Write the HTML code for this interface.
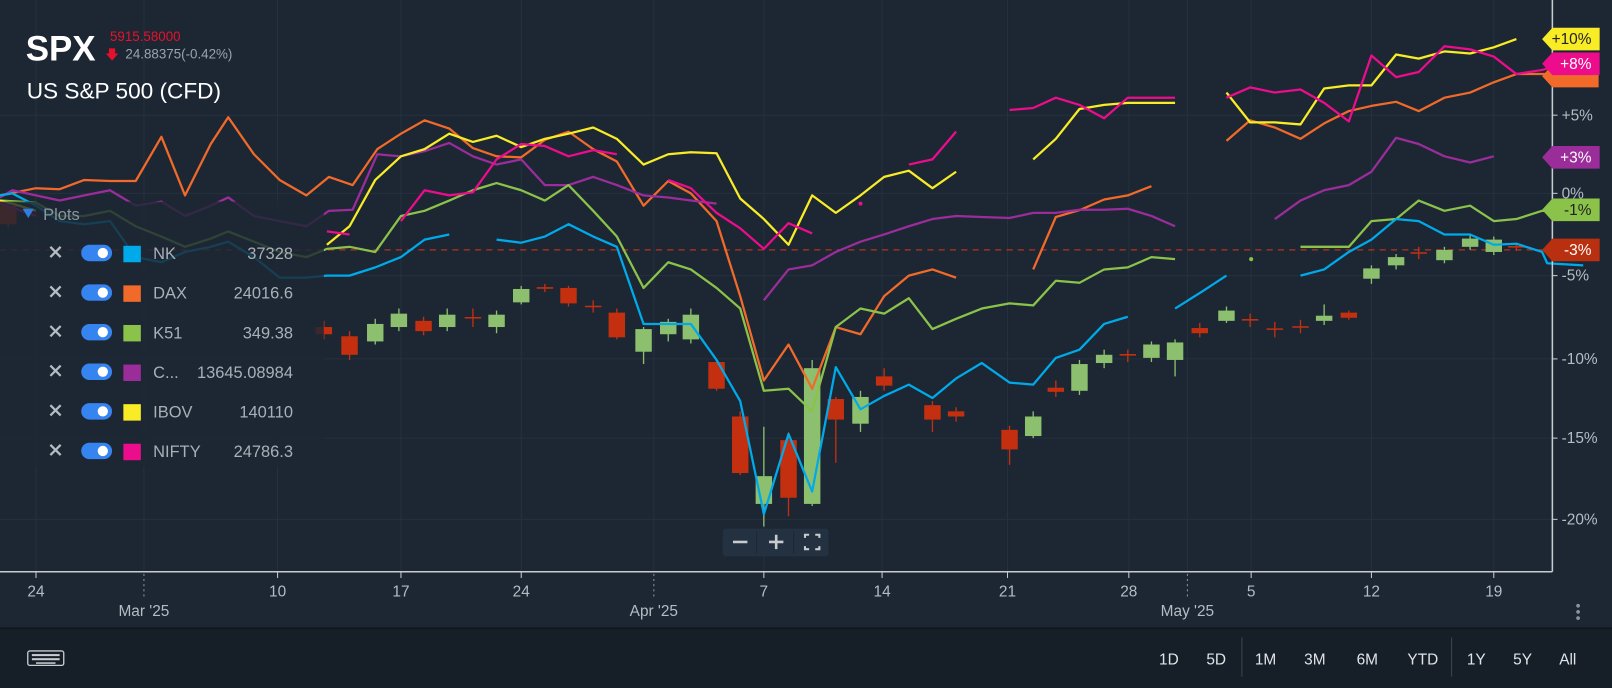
<!DOCTYPE html>
<html><head><meta charset="utf-8"><style>
html,body{margin:0;padding:0;background:#1c2733;overflow:hidden}
svg{display:block}
text{font-family:"Liberation Sans",sans-serif}
</style></head><body>
<svg id="s" width="1612" height="688" viewBox="0 0 1568 669" preserveAspectRatio="none" xmlns="http://www.w3.org/2000/svg">
<rect width="1568" height="669" fill="#1c2733"/>
<g id="grid" stroke="#24313e" stroke-width="1"></g>
<line x1="0" y1="243" x2="1510" y2="243" stroke="#b8321a" stroke-width="1.2" stroke-dasharray="6,5"/>
<g id="candles"></g>
<g id="lines" fill="none" stroke-width="2.2" stroke-linejoin="round"></g>
<!-- legend panel -->
<rect x="0" y="196" width="315" height="258" fill="#1c2733" opacity="0.82"/>
<g font-size="16">
<path d="M22 203 l11 0 l-5.5 9z" fill="#2f7de1"/>
<text x="42" y="214" fill="#8a95a0">Plots</text>
</g>
<g id="legend" font-size="16"></g>
<!-- header -->
<text x="25" y="59" font-size="34" font-weight="bold" fill="#fff">SPX</text>
<text x="107" y="40" font-size="13" fill="#e8112d">5915.58000</text>
<path d="M106 47 h6 v5 h3 l-6 7 l-6 -7 h3z" fill="#e8112d"/>
<text x="122" y="57" font-size="13" fill="#9aa3ad">24.88375(-0.42%)</text>
<text x="26" y="96" font-size="22" fill="#fff">US S&amp;P 500 (CFD)</text>
<!-- axes -->
<line x1="1510" y1="0" x2="1510" y2="556" stroke="#c8ccd0" stroke-width="1.5"/>
<line x1="0" y1="556" x2="1510" y2="556" stroke="#c8ccd0" stroke-width="1.5"/>
<g id="ylab" font-size="15" fill="#b4bcc4"></g>
<g id="xlab" font-size="15" fill="#b4bcc4" text-anchor="middle"></g>
<g id="tags" font-size="15"></g>
<!-- zoom controls -->
<rect x="703" y="514" width="103" height="27" rx="3" fill="#233140"/>
<line x1="736" y1="517" x2="736" y2="538" stroke="#1c2733"/>
<line x1="772" y1="517" x2="772" y2="538" stroke="#1c2733"/>
<path d="M713 527h14" stroke="#c8ccd0" stroke-width="2.5"/>
<path d="M748 527h14M755 520v14" stroke="#c8ccd0" stroke-width="2.5"/>
<path d="M783 523v-3h4M793 520h4v3M797 531v3h-4M787 534h-4v-3" stroke="#c8ccd0" stroke-width="2" fill="none"/>
<circle cx="1535" cy="589" r="1.8" fill="#8a95a0"/><circle cx="1535" cy="595" r="1.8" fill="#8a95a0"/><circle cx="1535" cy="601" r="1.8" fill="#8a95a0"/>
<!-- bottom bar -->
<rect x="0" y="610" width="1568" height="2" fill="#10161d"/>
<rect x="0" y="612" width="1568" height="57" fill="#161e27"/>
<g fill="none" stroke="#c8ccd0" stroke-width="1.3"><rect x="27" y="633" width="35" height="14" rx="2"/></g>
<g fill="#c8ccd0"><rect x="31" y="636" width="27" height="2"/><rect x="31" y="640" width="27" height="2"/><rect x="35" y="644" width="19" height="1.5"/></g>
<g font-size="15" fill="#e0e4e8" text-anchor="middle">
<text x="1137" y="646">1D</text><text x="1183" y="646">5D</text>
<text x="1231" y="646">1M</text><text x="1279" y="646">3M</text><text x="1330" y="646">6M</text><text x="1384" y="646">YTD</text>
<text x="1436" y="646">1Y</text><text x="1481" y="646">5Y</text><text x="1525" y="646">All</text>
</g>
<line x1="1208" y1="620" x2="1208" y2="658" stroke="#3a4756"/>
<line x1="1412" y1="620" x2="1412" y2="658" stroke="#3a4756"/>
</svg>
<script>
const NS="http://www.w3.org/2000/svg";
function el(p,t,a,txt){const e=document.createElementNS(NS,t);for(const k in a)e.setAttribute(k,a[k]);if(txt!==undefined)e.textContent=txt;document.getElementById(p).appendChild(e);return e;}
// grid
[35,140,270,390,507,636,743,858,980,1098,1155,1217,1334,1453].forEach(x=>el('grid','line',{x1:x,y1:0,x2:x,y2:556}));
[112,188,268,349,426,505].forEach(y=>el('grid','line',{x1:0,y1:y,x2:1510,y2:y}));
[['+5%',112],['0%',188],['-5%',268],['-10%',349],['-15%',426],['-20%',505]].forEach(([t,y])=>{el('ylab','line',{x1:1510,y1:y,x2:1515,y2:y,stroke:'#c8ccd0'});el('ylab','text',{x:1519,y:y+5},t)});
[['24',35],['10',270],['17',390],['24',507],['7',743],['14',858],['21',980],['28',1098],['5',1217],['12',1334],['19',1453]].forEach(([t,x])=>{el('xlab','line',{x1:x,y1:556,x2:x,y2:562,stroke:'#c8ccd0'});el('xlab','text',{x:x,y:580},t)});
[140,636,1155].forEach(x=>el('xlab','line',{x1:x,y1:558,x2:x,y2:582,stroke:'#8a95a0','stroke-dasharray':'2,3'}));
[['Mar \'25',140],['Apr \'25',636],['May \'25',1155]].forEach(([t,x])=>el('xlab','text',{x:x,y:599},t));
// candles [x,open,close,high,low]
const C=[[8,200,218,195,222],[315,318,325,312,330],[340,327,345,322,350],[365,332,315,310,335],[388,318,305,300,322],[412,312,322,308,326],[435,318,306,300,322],[460,309,309,300,318],[483,318,306,302,324],[507,294,281,278,296],[530,280,280,276,284],[553,280,295,278,298],[577,298,298,292,304],[600,304,328,300,330],[626,342,320,318,354],[650,325,313,310,332],[672,330,306,300,334],[697,352,378,350,380],[720,405,460,400,462],[743,490,463,415,512],[767,428,484,420,502],[790,490,358,350,492],[813,388,408,386,450],[837,412,386,380,420],[860,366,375,358,380],[907,394,408,390,420],[930,400,405,396,410],[982,418,437,414,452],[1005,424,405,400,426],[1027,377,381,370,386],[1050,380,354,350,384],[1074,353,345,340,358],[1097,345,345,340,352],[1120,348,335,332,352],[1143,350,333,330,366],[1167,319,324,314,328],[1193,312,302,298,314],[1216,311,311,305,318],[1240,320,320,313,328],[1265,318,318,311,324],[1288,312,307,296,316],[1312,304,309,302,311],[1334,271,261,258,276],[1358,258,250,247,262],[1380,246,246,240,252],[1405,253,243,240,256],[1430,240,232,229,243],[1453,245,233,230,248],[1475,240,240,236,244]];
C.forEach(([x,o,c,h,l])=>{const col=c<o?'#8cc06e':'#c4300f';el('candles','line',{x1:x,y1:h,x2:x,y2:l,stroke:col,'stroke-width':1.3});if(Math.abs(o-c)<1)el('candles','line',{x1:x-8,y1:o,x2:x+8,y2:o,stroke:col,'stroke-width':1.5});else el('candles','rect',{x:x-8,y:Math.min(o,c),width:16,height:Math.abs(o-c),fill:col});});
const S={
'#f26a2a':[[[0,190],[35,183],[58,184],[82,175],[107,176],[132,176],[157,133],[180,190],[205,140],[222,114],[247,150],[272,175],[298,190],[320,172],[343,180],[367,145],[390,130],[413,117],[437,125],[460,144],[483,152],[507,153],[530,136],[553,128],[577,145],[600,157],[626,200],[650,176],[672,188],[697,215],[720,288],[743,370],[767,335],[790,378],[813,318],[837,325],[860,288],[884,268],[907,262],[930,270]],[[1005,262],[1027,211],[1051,204],[1074,194],[1097,190],[1120,181]],[[1193,137],[1216,117],[1240,124],[1265,135],[1288,120],[1312,108],[1334,103],[1358,99],[1380,108],[1405,95],[1430,90],[1453,80],[1475,72],[1500,72],[1540,72]]],
'#9b2d9b':[[[0,192],[12,185],[35,190],[58,195],[82,190],[107,185],[132,200],[157,196],[180,210],[205,200],[222,192],[247,210],[272,215],[298,220],[320,205],[343,204],[367,150],[390,152],[413,147],[437,139],[460,152],[483,160],[507,155],[530,180],[553,180],[577,172],[600,180],[626,190],[650,192],[672,195],[697,198]],[[743,292],[767,262],[790,258],[813,245],[837,235],[860,228],[884,220],[907,213],[930,210],[955,211],[982,212],[1005,207],[1027,207],[1050,204],[1074,204],[1097,203],[1120,210],[1143,220]],[[1240,213],[1265,195],[1288,185],[1312,180],[1334,167],[1358,134],[1380,140],[1405,152],[1430,158],[1453,152]]],
'#8bc34a':[[[0,195],[35,197],[58,210],[82,210],[107,205],[132,220],[157,230],[180,240],[205,232],[222,225],[247,235],[272,245],[298,250],[318,242],[340,240],[365,245],[390,210],[413,205],[437,195],[460,185],[483,178],[507,185],[530,195],[553,180],[577,205],[600,230],[626,280],[650,255],[672,262],[697,280],[720,300],[743,380],[767,378],[790,400],[813,318],[837,300],[860,305],[884,290],[907,320],[930,310],[955,300],[982,295],[1005,297],[1027,273],[1050,275],[1074,262],[1097,260],[1120,250],[1143,252]],[[1265,240],[1288,240],[1312,240],[1334,215],[1358,213],[1380,195],[1405,205],[1430,200],[1453,215],[1475,213],[1500,205],[1540,205]]],
'#00aaea':[[[0,190],[12,188],[35,200],[58,215],[82,218],[107,215],[132,250],[157,255],[180,245],[205,240],[222,235],[247,250],[272,270],[298,270],[318,268],[340,268],[365,260],[390,250],[413,233],[437,228]],[[483,233],[507,236],[530,230],[553,218],[577,230],[600,240],[626,315],[650,315],[672,315],[697,350],[720,390],[743,500],[767,422],[790,478],[813,357],[837,398],[860,385],[884,374],[907,387],[930,368],[955,353],[982,372],[1005,374],[1027,348],[1050,340],[1074,315],[1097,308]],[[1143,300],[1170,283],[1193,268]],[[1265,268],[1288,262],[1312,245],[1334,233],[1358,213],[1380,215],[1405,228],[1430,228],[1453,238],[1475,237],[1500,245],[1505,256],[1540,258]]],
'#f8ec27':[[[0,195],[12,198],[35,205]],[[318,238],[340,220],[365,175],[390,152],[413,145],[437,130],[460,138],[483,132],[507,143],[530,135],[553,130],[577,124],[600,135],[626,160],[650,150],[672,148],[697,149],[720,193],[743,213],[767,238],[790,190],[813,207],[837,190],[860,172],[884,166],[907,183],[930,167]],[[1005,155],[1027,135],[1050,106],[1074,102],[1097,100],[1120,100],[1143,100]],[[1193,90],[1216,119],[1240,119],[1265,121],[1288,86],[1312,83],[1334,83],[1358,53],[1380,57],[1405,50],[1430,52],[1453,46],[1475,38]]],
'#ec0c8c':[[[0,198],[12,202],[35,210]],[[318,225],[340,228]],[[390,215],[413,185],[437,190],[460,187],[483,155],[507,140],[530,142],[553,152],[577,146],[600,150]],[[650,175],[672,183],[697,207],[720,222],[743,242],[767,217],[790,227]],[[884,160],[907,155],[930,128]],[[982,107],[1005,105],[1027,95],[1050,102],[1074,115],[1097,95],[1120,95],[1143,95]],[[1193,95],[1216,85],[1240,90],[1265,87],[1288,100],[1312,118],[1334,54],[1358,75],[1380,70],[1405,45],[1430,48],[1453,55],[1475,72],[1500,68],[1540,58]]]
};
for(const col in S)S[col].forEach(seg=>el('lines','polyline',{points:seg.map(p=>p.join(',')).join(' '),stroke:col}));
el('lines','circle',{cx:837,cy:198,r:2,fill:'#ec0c8c',stroke:'none'});
el('lines','circle',{cx:1217,cy:252,r:2,fill:'#8bc34a',stroke:'none'});
// legend rows
[['NK','37328','#00aaea'],['DAX','24016.6','#f26a2a'],['K51','349.38','#8bc34a'],['C...','13645.08984','#9b2d9b'],['IBOV','140110','#f8ec27'],['NIFTY','24786.3','#ec0c8c']].forEach(([n,v,c],i)=>{const y=246+i*38.5;
el('legend','path',{d:`M49 ${y-6}l10 10M59 ${y-6}l-10 10`,stroke:'#b4bcc4','stroke-width':2.2});
el('legend','rect',{x:79,y:y-8,width:30,height:16,rx:8,fill:'#3584f0'});
el('legend','circle',{cx:100,cy:y,r:5,fill:'#fff'});
el('legend','rect',{x:120,y:y-7,width:17,height:16,fill:c});
el('legend','text',{x:149,y:y+6,fill:'#a8b0b8'},n);
el('legend','text',{x:285,y:y+6,fill:'#a8b0b8','text-anchor':'end'},v);});
// tags
[['+10%',38,'#f8ec27','#222'],['-3%',66,'#f26a2a','#fff'],['+8%',62,'#ec0c8c','#fff'],['+3%',153,'#9b2d9b','#fff'],['-1%',204,'#8bc34a','#222'],['-3%',243,'#b8300f','#fff']].forEach(([t,y,c,f],i)=>{
if(i==1){el('tags','path',{d:`M1500 ${y+8} l10 -11 h45 v22 h-45z`,fill:c});return;}
el('tags','path',{d:`M1500 ${y} l10 -11 h46 v22 h-46z`,fill:c});
el('tags','text',{x:1548,y:y+5,fill:f,'text-anchor':'end'},t);});
</script>
</body></html>
